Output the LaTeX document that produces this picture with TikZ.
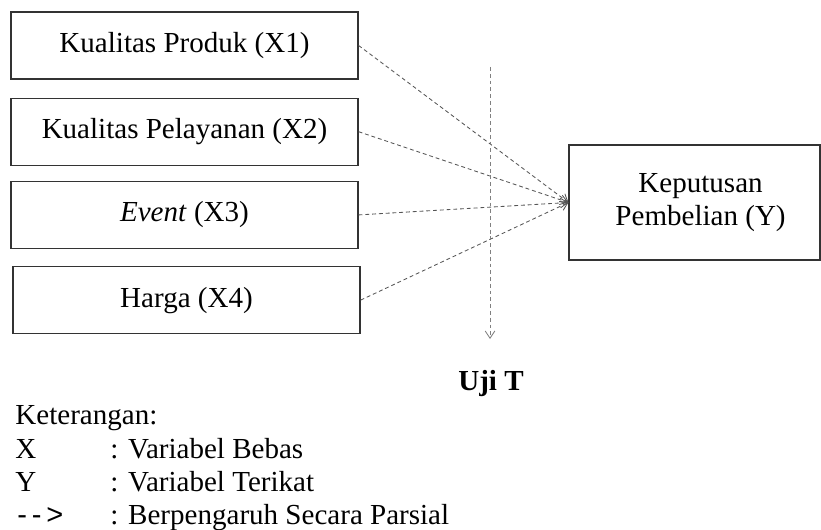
\documentclass[tikz,border=0pt]{standalone}
\usepackage{fontspec}
\setmainfont{Liberation Serif}
\newfontfamily\signfont{Liberation Sans}
\usepackage{tikz}
\usetikzlibrary{arrows.meta,positioning}
\definecolor{linegray}{HTML}{555555}
\definecolor{boxgray}{HTML}{333333}
\newcommand{\pu}{0.4132pt}

\begin{document}
\begin{tikzpicture}[
    x=\pu, y=-\pu,
    font=\fontsize{12}{13.6}\selectfont,
    varbox/.style={rectangle, draw=boxgray, line width=0.5pt, minimum width={347*\pu}, minimum height={67*\pu}, align=center, inner sep=0pt},
    resbox/.style={rectangle, draw=boxgray, line width=0.5pt, minimum width={251*\pu}, minimum height={115*\pu}, align=center, inner sep=0pt},
    arrow/.style={-{Straight Barb[length=3pt,width=4pt]}, linegray, line width=0.35pt, dash pattern=on 1.6pt off 1.2pt},
    legend/.style={anchor=base west, inner sep=0pt}
]
\useasboundingbox (0,0) rectangle (821,529);

% Independent variables
\node[varbox] (x1) at (184.5,45.5) {Kualitas Produk (X1)};
\node[varbox, below=18*\pu of x1] (x2) {Kualitas Pelayanan (X2)};
\node[varbox, below=15*\pu of x2] (x3) {\textit{Event} (X3)};
\node[varbox, below=17*\pu of x3, xshift=2*\pu] (x4) {Harga (X4)};

% Dependent variable
\node[resbox] (y) at (694.5,202.5) {\hspace*{5pt}Keputusan\\\hspace*{5pt}Pembelian (Y)};

% Partial test line
\coordinate (ujitop) at (490,67);
\coordinate (ujibot) at (490,339);
\node[font=\fontsize{12}{13.6}\selectfont\bfseries, anchor=base] (uji) at (491,390) {Uji T};

% Arrows
\draw[arrow] (x1.east) -- (y.west);
\draw[arrow] (x2.east) -- (y.west);
\draw[arrow] (x3.east) -- (y.west);
\draw[arrow] (x4.east) -- (y.west);
\draw[arrow, gray] (ujitop) -- (ujibot);

% Legend
\node[legend] (ket) at (15,424) {Keterangan:};
\node[legend] (lx) at (15,458) {X};
\node[legend] (lxt) at (110,458) {: Variabel Bebas};
\node[legend] (ly) at (15,491) {Y};
\node[legend] (lyt) at (110,491) {: Variabel Terikat};
\node[legend] (la) at (17,524) {\signfont -\,-\,>};
\node[legend] (lat) at (110,524) {: Berpengaruh Secara Parsial};

\end{tikzpicture}
\end{document}
